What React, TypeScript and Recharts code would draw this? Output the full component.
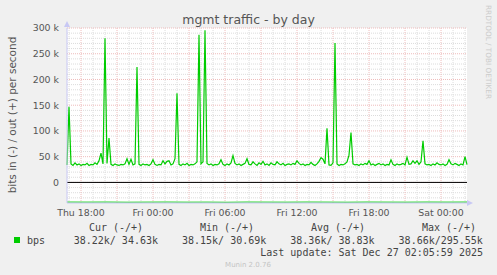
import React from 'react';
import { ComposedChart, Line, XAxis, YAxis, CartesianGrid, ReferenceLine } from 'recharts';

// out (+) traffic, kbit/s, one sample every 10 minutes from Thu 16:50
const outKbps = [
  34, 147, 36, 33, 38, 34, 36, 33, 35, 34,
  37, 33, 35, 34, 38, 35, 42, 57, 36, 280,
  37, 86, 35, 33, 36, 34, 33, 35, 34, 36,
  46, 35, 45, 34, 36, 224, 35, 33, 36, 34,
  35, 33, 36, 44, 35, 33, 35, 34, 42, 36,
  41, 42, 34, 36, 46, 173, 35, 33, 36, 34,
  37, 33, 35, 34, 36, 40, 287, 36, 40, 295.5,
  37, 34, 36, 33, 35, 34, 36, 44, 35, 33,
  36, 34, 38, 52, 37, 34, 36, 33, 35, 37,
  46, 35, 34, 40, 36, 33, 38, 35, 41, 34,
  36, 33, 38, 35, 34, 40, 36, 34, 37, 33,
  35, 36, 34, 37, 35, 42, 37, 34, 36, 33,
  35, 34, 39, 35, 33, 36, 41, 48, 45, 36,
  105, 34, 33, 38, 271, 36, 33, 35, 34, 36,
  40, 53, 97, 36, 34, 35, 33, 36, 34, 37,
  35, 42, 34, 36, 33, 35, 37, 34, 36, 33,
  35, 34, 44, 35, 33, 36, 34, 35, 37, 34,
  49, 35, 36, 42, 37, 42, 35, 40, 81, 36,
  34, 35, 33, 36, 34, 38, 35, 34, 36, 33,
  35, 44, 36, 34, 37, 35, 33, 36, 34, 50,
  34.63,
];

// in (-) traffic, kbit/s, one sample every 100 minutes
const inKbps = [
  -38.2, -38.3, -38.2, -38.5, -38.3, -38.2, -38.4, -38.3, -38.6, -38.2,
  -38.3, -38.4, -38.2, -38.3, -38.5, -38.2, -38.3, -38.4, -38.2, -38.3, -38.2,
];

const xTicks = [70, 430, 790, 1150, 1510, 1870];
const xTickLabels = ['Thu 18:00', 'Fri 00:00', 'Fri 06:00', 'Fri 12:00', 'Fri 18:00', 'Sat 00:00'];
const yTicks = [0, 50, 100, 150, 200, 250, 300];

const legendHeads = ['Cur (-/+)', 'Min (-/+)', 'Avg (-/+)', 'Max (-/+)'];
const legendValues = ['38.22k/ 34.63k', '38.15k/ 30.69k', '38.36k/ 38.83k', '38.66k/295.55k'];

const GREEN = '#00cc00';
const MGRID = '#efbcbc';
const GRID = '#dcdcdc';
const AXIS = '#c8c8f4';
const SANS = '"DejaVu Sans", sans-serif';
const MONO = '"DejaVu Sans Mono", monospace';

const outRows = outKbps.map((v, i) => ({ t: i * 10, out: v }));
const inRows = inKbps.map((v, i) => ({ t: i * 100, in: v }));

const hourLines: number[] = [];
for (let t = 10; t < 2000; t += 60) hourLines.push(t);
const yMinor: number[] = [];
for (let v = -30; v < 300; v += 10) if (v % 50 !== 0) yMinor.push(v);

export default function App() {
  return (
    <div style={{ position: 'absolute', left: 0, top: 0, width: 497, height: 275, background: '#f0f0f0' }}>
      <div style={{ position: 'absolute', left: 0, top: 0 }}>
        <ComposedChart width={497} height={275} data={outRows} margin={{ top: 28, right: 30, bottom: 52, left: 7 }}>
          <CartesianGrid fill="#ffffff" horizontal={false} vertical={false} stroke="none" />
          {yMinor.map(v => (
            <ReferenceLine key={'ym' + v} y={v} stroke={GRID} strokeDasharray="1 1" />
          ))}
          {hourLines.filter(t => (t - 70) % 180 !== 0).map(t => (
            <ReferenceLine key={'xm' + t} x={t} stroke={GRID} strokeDasharray="1 1" />
          ))}
          {yTicks.map(v => (
            <ReferenceLine key={'yM' + v} y={v} stroke={MGRID} strokeDasharray="1 1" />
          ))}
          {hourLines.filter(t => (t - 70) % 180 === 0).map(t => (
            <ReferenceLine key={'xM' + t} x={t} stroke={MGRID} strokeDasharray="1 1" />
          ))}
          <ReferenceLine y={0} stroke="#000000" />
          <XAxis
            dataKey="t"
            type="number"
            domain={[0, 2000]}
            ticks={xTicks}
            tickFormatter={(v: number) => xTickLabels[xTicks.indexOf(v)]}
            tick={{ fontSize: 9.4, fill: '#555', fontFamily: SANS }}
            tickLine={false}
            tickSize={0}
            tickMargin={6}
            axisLine={{ stroke: AXIS }}
            height={20}
            interval={0}
          />
          <YAxis
            type="number"
            domain={[-40, 300]}
            ticks={yTicks}
            tickFormatter={(v: number) => (v === 0 ? '0' : `${v} k`)}
            tick={{ fontSize: 9.4, fill: '#555', fontFamily: SANS }}
            tickLine={false}
            tickSize={0}
            tickMargin={8}
            axisLine={{ stroke: AXIS }}
            width={60}
            interval={0}
          />
          <Line data={inRows} dataKey="in" stroke={GREEN} strokeWidth={1} dot={false} isAnimationActive={false} type="linear" />
          <Line dataKey="out" stroke={GREEN} strokeWidth={1.2} dot={false} isAnimationActive={false} type="linear" />
        </ComposedChart>
      </div>
      <svg width={497} height={275} style={{ position: 'absolute', left: 0, top: 0, pointerEvents: 'none' }}>
        <polygon points="64,27 70,27 67,21" fill={AXIS} />
        <polygon points="467,200 473,203 467,206" fill={AXIS} />
        <text x={248.5} y={24} textAnchor="middle" fontFamily={SANS} fontSize={12.5} fill="#555">
          mgmt traffic - by day
        </text>
        <text
          x={12} y={115} transform="rotate(-90 12 115)" textAnchor="middle" dominantBaseline="central"
          fontFamily={SANS} fontSize={10.5} fill="#555"
        >
          bits in (-) / out (+) per second
        </text>
        <text
          x={488} y={5} transform="rotate(90 488 5)" textAnchor="start" dominantBaseline="central"
          fontFamily={SANS} fontSize={7.3} fill="#cccccc"
        >
          RRDTOOL / TOBI OETIKER
        </text>
        {legendHeads.map((h, i) => (
          <text key={h} x={116 + i * 111} y={231} textAnchor="middle" fontFamily={MONO} fontSize={10} fill="#444" xmlSpace="preserve">
            {h}
          </text>
        ))}
        <rect x={14} y={237} width={6} height={6} fill={GREEN} />
        <text x={27} y={243.5} fontFamily={MONO} fontSize={10} fill="#444">bps</text>
        {legendValues.map((v, i) => (
          <text key={v} x={158 + i * 108.3} y={243.5} textAnchor="end" fontFamily={MONO} fontSize={10} fill="#444" style={{ whiteSpace: 'pre' }}>
            {v}
          </text>
        ))}
        <text x={483} y={255.5} textAnchor="end" fontFamily={MONO} fontSize={10} fill="#444" style={{ whiteSpace: 'pre' }}>
          Last update: Sat Dec 27 02:05:59 2025
        </text>
        <text x={248} y={266.5} textAnchor="middle" fontFamily={SANS} fontSize={7} fill="#c4c4c4">
          Munin 2.0.76
        </text>
      </svg>
    </div>
  );
}
